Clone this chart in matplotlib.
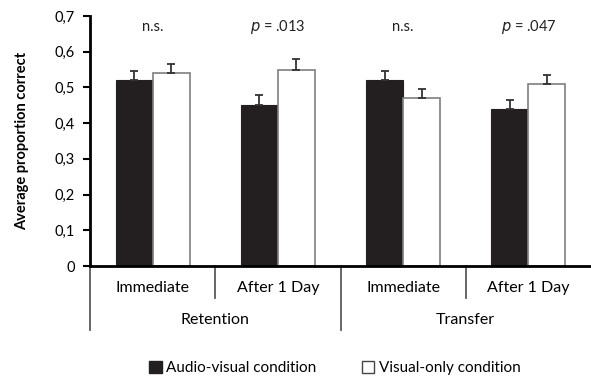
import numpy as np
import matplotlib
matplotlib.use('Agg')
import matplotlib.pyplot as plt
import matplotlib.transforms as mtransforms
from matplotlib.patches import Patch

plt.rcParams['font.family'] = ['Lato', 'DejaVu Sans']
plt.rcParams['font.size'] = 10.5

# data
sub_labels = ['Immediate', 'After 1 Day', 'Immediate', 'After 1 Day']
group_labels = ['Retention', 'Transfer']
audio_visual = [0.52, 0.45, 0.52, 0.44]
audio_visual_err = [0.025, 0.029, 0.026, 0.025]
visual_only = [0.54, 0.55, 0.47, 0.51]
visual_only_err = [0.026, 0.030, 0.026, 0.025]
sig_labels = ['n.s.', '$p$ = .013', 'n.s.', '$p$ = .047']
yticks = [0, 0.1, 0.2, 0.3, 0.4, 0.5, 0.6, 0.7]

dark = '#231f20'
edge = '#7f7f7f'
sep = '#5a5a5a'

fig = plt.figure(figsize=(5.91, 3.79), dpi=100)
ax = fig.add_axes([90/591, 1 - 266/379, 1 - 90/591, (266 - 16)/379])

x = np.arange(len(sub_labels))
bw = 0.295
ekw = dict(ecolor='#333333', elinewidth=1.3, capsize=3, capthick=1.3)
ax.bar(x - bw/2, audio_visual, bw, color=dark, edgecolor=dark, linewidth=0.8,
       yerr=[np.zeros(4), audio_visual_err], error_kw=ekw, zorder=2)
ax.bar(x + bw/2, visual_only, bw, color='white', edgecolor=edge, linewidth=1.2,
       yerr=[np.zeros(4), visual_only_err], error_kw=ekw, zorder=2)

for xi, s in zip(x, sig_labels):
    ax.text(xi, 0.67, s, ha='center', va='center', fontsize=10.5, color='#222222')

ax.set_xlim(-0.5, 3.5)
ax.set_ylim(0, 0.7)
ax.set_yticks(yticks)
ax.set_yticklabels(['0'] + [('%.1f' % v).replace('.', ',') for v in yticks[1:]])
ax.set_xticks([])
ax.tick_params(axis='y', direction='out', length=5, width=1.5, pad=6, labelsize=10.5)
for side in ['top', 'right']:
    ax.spines[side].set_visible(False)
ax.spines['left'].set_linewidth(2)
ax.spines['bottom'].set_linewidth(2)
ax.set_ylabel('Average proportion correct', fontweight='bold', fontsize=10.5, labelpad=18)

# multi-level category axis below the plot
trans = mtransforms.blended_transform_factory(ax.transData, ax.transAxes)
for xi, lab in zip(x, sub_labels):
    ax.text(xi, -22/250, lab, transform=trans, ha='center', va='center', fontsize=11.5)
for b in [0.5, 2.5]:
    ax.plot([b, b], [0, -32/250], transform=trans, color=sep, lw=1.3, clip_on=False)
for b in [-0.5, 1.5]:
    ax.plot([b, b], [0, -64/250], transform=trans, color=sep, lw=1.3, clip_on=False)
for gi, lab in enumerate(group_labels):
    ax.text(2*gi + 0.5, -54/250, lab, transform=trans, ha='center', va='center', fontsize=11.5)

handles = [Patch(facecolor=dark, edgecolor=dark),
           Patch(facecolor='white', edgecolor='#444444')]
fig.legend(handles, ['Audio-visual condition', 'Visual-only condition'],
           loc='center', bbox_to_anchor=(0.567, 1 - 368/379), ncol=2, frameon=False,
           handlelength=0.8, handleheight=0.8, handletextpad=0.3, columnspacing=3.0,
           fontsize=11)

fig.savefig('out.png', dpi=100)
